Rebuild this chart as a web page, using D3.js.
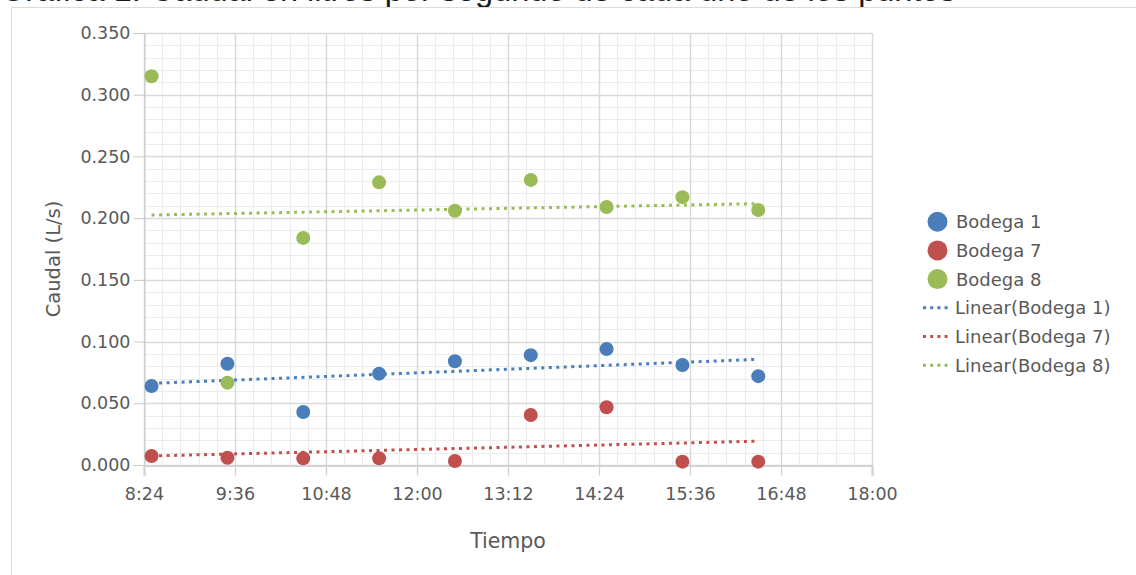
<!DOCTYPE html>
<html>
<head>
<meta charset="utf-8">
<script src="https://cdn.jsdelivr.net/npm/d3@7/dist/d3.min.js"></script>
<style>
  html, body { margin: 0; padding: 0; background: #fff; }
  svg { display: block; }
  text { font-family: "DejaVu Sans", sans-serif; }
</style>
</head>
<body>
<svg id="chart" width="1136" height="575"></svg>
<script>
// Sampling times (one reading per hour) and flow per warehouse, in L/s
const times = ["8:30", "9:30", "10:30", "11:30", "12:30", "13:30", "14:30", "15:30", "16:30"];
const bodega1 = [0.064, 0.082, 0.043, 0.074, 0.084, 0.089, 0.094, 0.081, 0.072];
const bodega7 = [0.0073, 0.0059, 0.0054, 0.0054, 0.0032, 0.0405, 0.0468, 0.0027, 0.0027];
const bodega8 = [0.315, 0.0667, 0.184, 0.229, 0.206, 0.231, 0.209, 0.217, 0.2066];

const seriesNames = ["Bodega 1", "Bodega 7", "Bodega 8"];
const seriesColors = ["#4a7ebb", "#c0504d", "#9bbb59"];

const xTickLabels = ["8:24", "9:36", "10:48", "12:00", "13:12", "14:24", "15:36", "16:48", "18:00"];
const yTickValues = [0, 0.05, 0.1, 0.15, 0.2, 0.25, 0.3, 0.35];

const titleText = "Gráfica 1. Caudal en litros por segundo de cada uno de los puntos";
const xTitle = "Tiempo";
const yTitle = "Caudal (L/s)";

const toMin = s => { const [h, m] = s.split(":").map(Number); return h * 60 + m; };
const fmtTime = m => Math.floor(m / 60) + ":" + String(Math.round(m % 60)).padStart(2, "0");

const svg = d3.select("#chart");

// Caption sitting above the frame (its upper part runs off the top edge)
svg.append("text")
  .attr("x", 0).attr("y", 0.5)
  .style("font-family", "'Liberation Sans', Arial, sans-serif")
  .style("font-size", "32.5px").attr("fill", "#1a1a1a")
  .text(titleText);
svg.append("path")
  .attr("d", "M11.5,575 V7.5 H1136")
  .attr("fill", "none").attr("stroke", "#dcdcdc").attr("stroke-width", 1);

const plot = { left: 144, right: 872, top: 33, bottom: 465 };

const x = d3.scaleLinear()
  .domain([toMin(xTickLabels[0]), toMin(xTickLabels[xTickLabels.length - 1])])
  .range([plot.left, plot.right]);
const y = d3.scaleLinear()
  .domain([0, 0.35])
  .range([plot.bottom, plot.top]);

const xMajor = xTickLabels.map(toMin);
const xStep = xMajor[1] - xMajor[0];
const xMinor = d3.range(xMajor[0], xMajor[xMajor.length - 1] + 0.01, xStep / 5);
const yMinor = d3.range(0, 0.3501, 0.01);

const grid = svg.append("g");
// minor grid
grid.selectAll(".vmin").data(xMinor).join("line")
  .attr("x1", d => Math.round(x(d)) + 0.5).attr("x2", d => Math.round(x(d)) + 0.5)
  .attr("y1", plot.top).attr("y2", plot.bottom)
  .attr("stroke", "#ececec").attr("stroke-width", 1);
grid.selectAll(".hmin").data(yMinor).join("line")
  .attr("y1", d => Math.round(y(d)) + 0.5).attr("y2", d => Math.round(y(d)) + 0.5)
  .attr("x1", plot.left).attr("x2", plot.right)
  .attr("stroke", "#ececec").attr("stroke-width", 1);
// major grid
grid.selectAll(".vmaj").data(xMajor).join("line")
  .attr("x1", d => Math.round(x(d)) + 0.5).attr("x2", d => Math.round(x(d)) + 0.5)
  .attr("y1", plot.top).attr("y2", plot.bottom)
  .attr("stroke", "#d9d9d9").attr("stroke-width", 1.4);
grid.selectAll(".hmaj").data(yTickValues).join("line")
  .attr("y1", d => Math.round(y(d)) + 0.5).attr("y2", d => Math.round(y(d)) + 0.5)
  .attr("x1", plot.left).attr("x2", plot.right)
  .attr("stroke", "#d9d9d9").attr("stroke-width", 1.4);

// Axes
const yAxis = svg.append("g")
  .attr("transform", `translate(${plot.left + 0.5},0)`)
  .call(d3.axisLeft(y).tickValues(yTickValues).tickFormat(d3.format(".3f")).tickSizeOuter(0).tickSize(11).tickPadding(3));
yAxis.select(".domain").attr("stroke", "#c8c8c8");
yAxis.selectAll(".tick line").attr("stroke", "#c8c8c8");
yAxis.selectAll(".tick text")
  .attr("fill", "#595959").style("font-size", "17.5px").style("font-family", "'DejaVu Sans', sans-serif");

const xAxis = svg.append("g")
  .attr("transform", `translate(0,${plot.bottom + 0.5})`)
  .call(d3.axisBottom(x).tickValues(xMajor).tickFormat(fmtTime).tickSizeOuter(0).tickSize(10).tickPadding(12));
xAxis.select(".domain").attr("stroke", "#d4d4d4").attr("stroke-width", 2.2);
xAxis.selectAll(".tick line").attr("stroke", "#d0d0d0").attr("stroke-width", 1.3);
xAxis.selectAll(".tick text")
  .attr("fill", "#595959").style("font-size", "17.5px").style("font-family", "'DejaVu Sans', sans-serif");

// Axis titles
svg.append("text")
  .attr("x", (plot.left + plot.right) / 2).attr("y", 548)
  .attr("text-anchor", "middle").attr("fill", "#595959")
  .style("font-size", "20.5px").text(xTitle);
svg.append("text")
  .attr("transform", `translate(60,${(plot.top + plot.bottom) / 2 + 10}) rotate(-90)`)
  .attr("text-anchor", "middle").attr("fill", "#595959")
  .style("font-size", "19.5px").text(yTitle);

// Least-squares trend for each series
const series = [bodega1, bodega7, bodega8].map((vals, i) => {
  const pts = vals.map((v, j) => ({ t: toMin(times[j]), v }));
  const mt = d3.mean(pts, p => p.t), mv = d3.mean(pts, p => p.v);
  const slope = d3.sum(pts, p => (p.t - mt) * (p.v - mv)) / d3.sum(pts, p => (p.t - mt) ** 2);
  const icpt = mv - slope * mt;
  const t0 = pts[0].t, t1 = pts[pts.length - 1].t;
  return { name: seriesNames[i], color: seriesColors[i], pts,
           trend: [{ t: t0, v: icpt + slope * t0 }, { t: t1, v: icpt + slope * t1 }] };
});

const line = d3.line().x(d => x(d.t)).y(d => y(d.v));
svg.append("g").selectAll("path").data(series).join("path")
  .attr("d", d => line(d.trend))
  .attr("fill", "none").attr("stroke", d => d.color)
  .attr("stroke-width", 3).attr("stroke-dasharray", "3,4.5");

series.forEach(s => {
  svg.append("g").selectAll("circle").data(s.pts).join("circle")
    .attr("cx", d => x(d.t)).attr("cy", d => y(d.v)).attr("r", 7)
    .attr("fill", s.color);
});

// Legend
const legend = svg.append("g");
const rowY = i => 221.7 + i * 28.7;
series.forEach((s, i) => {
  legend.append("circle").attr("cx", 937.5).attr("cy", rowY(i)).attr("r", 10).attr("fill", s.color);
  legend.append("text").attr("x", 956).attr("y", rowY(i)).attr("dy", "0.36em")
    .attr("fill", "#595959").style("font-size", "18px").text(s.name);
});
series.forEach((s, i) => {
  const yy = rowY(i + 3);
  legend.append("line").attr("x1", 923).attr("x2", 951).attr("y1", yy).attr("y2", yy)
    .attr("stroke", s.color).attr("stroke-width", 3).attr("stroke-dasharray", "3,4.2");
  legend.append("text").attr("x", 955).attr("y", yy).attr("dy", "0.36em")
    .attr("fill", "#595959").style("font-size", "18px").text(`Linear(${s.name})`);
});
</script>
</body>
</html>
